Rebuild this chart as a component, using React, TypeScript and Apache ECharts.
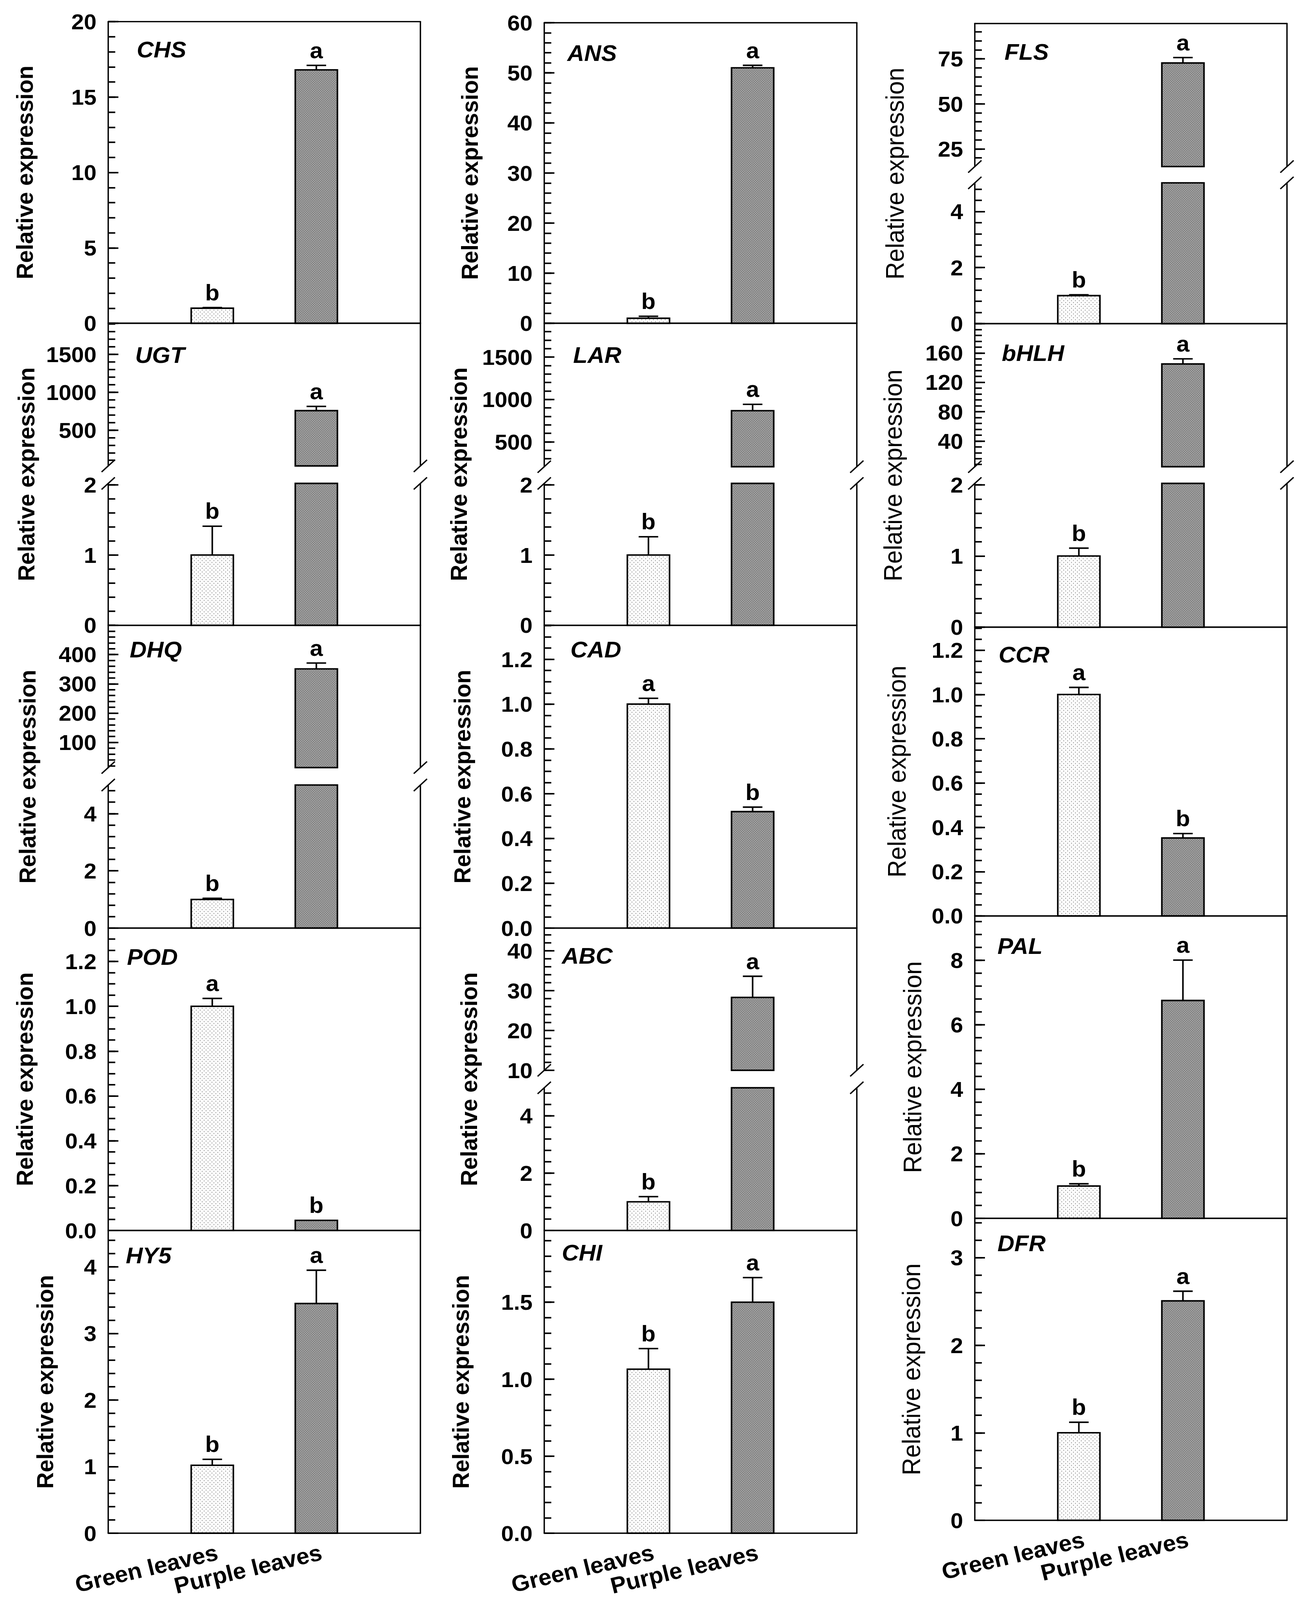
import React, { useEffect, useRef } from 'react';
import * as echarts from 'echarts';

// ---------------- DATA ----------------
const genes = ['CHS', 'ANS', 'FLS', 'UGT', 'LAR', 'bHLH', 'DHQ', 'CAD', 'CCR', 'POD', 'ABC', 'PAL', 'HY5', 'CHI', 'DFR'];
const categories = ['Green leaves', 'Purple leaves'];
const categoryPos = [1, 2];

const greenMean = [1.0, 1.0, 1.0, 1.0, 1.0, 1.0, 1.0, 1.0, 1.0, 1.0, 1.0, 1.0, 1.02, 1.065, 1.0];
const greenErr = [0.04, 0.4, 0.03, 0.41, 0.26, 0.11, 0.04, 0.026, 0.032, 0.035, 0.18, 0.07, 0.09, 0.134, 0.12];
const purpleMean = [16.8, 51.0, 72.7, 756, 867, 145, 351, 0.52, 0.352, 0.045, 28.3, 6.75, 3.45, 1.5, 2.507];
const purpleErr = [0.3, 0.5, 3.0, 56, 75, 7, 20, 0.02, 0.02, 0, 5.3, 1.25, 0.5, 0.16, 0.11];
const greenLetter = ['b', 'b', 'b', 'b', 'b', 'b', 'b', 'a', 'a', 'a', 'b', 'b', 'b', 'b', 'b'];
const purpleLetter = ['a', 'a', 'a', 'a', 'a', 'a', 'a', 'b', 'b', 'b', 'a', 'a', 'a', 'a', 'a'];

// lower (or only) axis section
const lowerMax = [20, 60, 5.02, 2.02, 2.02, 2.02, 5, 1.352, 1.304, 1.349, 4.98, 9.37, 4.547, 1.966, 3.45];
const lowerTicks = [
  [0, 5, 10, 15, 20],
  [0, 10, 20, 30, 40, 50, 60],
  [0, 2, 4],
  [0, 1, 2],
  [0, 1, 2],
  [0, 1, 2],
  [0, 2, 4],
  [0, 0.2, 0.4, 0.6, 0.8, 1.0, 1.2],
  [0, 0.2, 0.4, 0.6, 0.8, 1.0, 1.2],
  [0, 0.2, 0.4, 0.6, 0.8, 1.0, 1.2],
  [0, 2, 4],
  [0, 2, 4, 6, 8],
  [0, 1, 2, 3, 4],
  [0, 0.5, 1.0, 1.5],
  [0, 1, 2, 3],
];
const lowerMinorStep = [1, 2, 0.4, 0.2, 0.2, 0.2, 0.4, 0.05, 0.05, 0.05, 0.4, 0.4, 0.2, 0.1, 0.2];
const labelDecimals = [0, 0, 0, 0, 0, 0, 0, 1, 1, 1, 0, 0, 0, 1, 0];

// upper section of broken axes (null = no break)
const upperRange: (number[] | null)[] = [null, null, [15.2, 94.6], [26, 1910], [206, 1899], [5, 200], [14, 500], null, null, null, [10, 45.7], null, null, null, null];
const upperTicks: (number[] | null)[] = [null, null, [25, 50, 75], [500, 1000, 1500], [500, 1000, 1500], [40, 80, 120, 160], [100, 200, 300, 400], null, null, null, [10, 20, 30, 40], null, null, null, null];
const upperMinorStep: (number | null)[] = [null, null, 5, 100, 100, 8, 20, null, null, null, 2, null, null, null, null];

// ---------------- LAYOUT ----------------
const W = 3335;
const H = 4217;
const FONT = '"Liberation Sans", Arial, Helvetica, sans-serif';
const colX = [[277, 1076], [1393, 2193], [2495, 3294]];
const X_MAX = 3;
const panelY = [
  [57, 852], [60, 852], [62, 439, 482, 853],
  [852, 1228, 1274, 1648], [852, 1230, 1274, 1648], [853, 1230, 1274, 1653],
  [1648, 2023, 2069, 2446], [1648, 2446], [1653, 2414],
  [2446, 3243], [2446, 2821, 2867, 3243], [2414, 3211],
  [3243, 4041], [3243, 4041], [3211, 4007],
];
const titleX = [63, 1202, 2291, 67, 1174, 2286, 70, 1183, 2296, 63, 1200, 2336, 115, 1179, 2333];
const geneOffset = [
  [73, 74], [59, 80], [76, 75],
  [69, 84], [74, 84], [69, 77],
  [55, 64], [67, 64], [61, 72],
  [48, 76], [45, 73], [58, 79],
  [45, 66], [45, 59], [58, 66],
];
const BAR_HALF = 0.2025;
const CAP_HALF = 25;
const AXIS_W = 3.5;
const XLABEL_ROT = (13.5 * Math.PI) / 180;
const XLABEL_GAP = 20;

function svgTile(w: number, h: number, body: string) {
  return 'data:image/svg+xml;charset=utf-8,' + encodeURIComponent(
    `<svg xmlns="http://www.w3.org/2000/svg" width="${w}" height="${h}" viewBox="0 0 ${w} ${h}">${body}</svg>`
  );
}
const GREEN_FILL: any = {
  image: svgTile(10, 10,
    '<rect width="10" height="10" fill="#ffffff"/>' +
    '<circle cx="2.5" cy="2.5" r="1.3" fill="#8c8c8c"/>' +
    '<circle cx="7.5" cy="7.5" r="1.3" fill="#8c8c8c"/>'),
  imageWidth: 10,
  imageHeight: 10,
  repeat: 'repeat',
};
const PURPLE_FILL: any = {
  image: svgTile(6, 6,
    '<rect width="6" height="6" fill="#a8a8a8"/>' +
    '<rect x="0" y="0" width="3" height="3" fill="#7c7c7c"/>' +
    '<rect x="3" y="3" width="3" height="3" fill="#7c7c7c"/>'),
  imageWidth: 6,
  imageHeight: 6,
  repeat: 'repeat',
};

function stepTicks(min: number, max: number, step: number) {
  const out: number[] = [];
  const start = Math.ceil(min / step - 1e-9);
  for (let k = start; k * step <= max + 1e-9; k++) out.push(+(k * step).toFixed(6));
  return out;
}

function makeRender(lo: number, hi: number, gi: number) {
  return (params: any, api: any) => {
    const idx = params.dataIndex;
    const x = api.value(0);
    const v = api.value(1);
    const e = api.value(2);
    const kids: any[] = [];
    if (v > lo) {
      const t = Math.min(v, hi);
      const a = api.coord([x - BAR_HALF, t]);
      const b = api.coord([x + BAR_HALF, lo]);
      kids.push({
        type: 'rect',
        shape: { x: a[0], y: a[1], width: b[0] - a[0], height: b[1] - a[1] },
        style: { fill: idx === 0 ? GREEN_FILL : PURPLE_FILL, stroke: '#000', lineWidth: 4 },
      });
    }
    if (v >= lo && v <= hi) {
      const base = api.coord([x, v]);
      const tip = api.coord([x, v + e]);
      if (e > 0) {
        kids.push({ type: 'line', shape: { x1: base[0], y1: base[1], x2: tip[0], y2: tip[1] }, style: { stroke: '#000', lineWidth: 4 } });
        kids.push({ type: 'line', shape: { x1: tip[0] - CAP_HALF, y1: tip[1], x2: tip[0] + CAP_HALF, y2: tip[1] }, style: { stroke: '#000', lineWidth: 4 } });
      }
      kids.push({
        type: 'text',
        style: {
          text: idx === 0 ? greenLetter[gi] : purpleLetter[gi],
          x: tip[0],
          y: tip[1] - 10,
          align: 'center',
          verticalAlign: 'bottom',
          fontFamily: FONT,
          fontWeight: 'bold',
          fontSize: 60,
          fill: '#000',
        },
      });
    }
    return { type: 'group', children: kids };
  };
}

function buildOption() {
  const grid: any[] = [];
  const xAxis: any[] = [];
  const yAxis: any[] = [];
  const series: any[] = [];
  const graphic: any[] = [];
  const lineStyle = { color: '#000', width: AXIS_W };

  const addSection = (gi: number, y0: number, y1: number, lo: number, hi: number, majors: number[], minorStep: number, hasTop: boolean, hasBottom: boolean, showX: boolean) => {
    const col = gi % 3;
    const [x0, x1] = colX[col];
    const k = grid.length;
    grid.push({ left: x0, top: y0, width: x1 - x0, height: y1 - y0, containLabel: false });
    const dec = labelDecimals[gi];
    xAxis.push({
      gridIndex: k, type: 'value', min: 0, max: X_MAX, position: 'bottom',
      axisLine: { show: hasBottom, onZero: false, lineStyle },
      axisTick: { show: false }, splitLine: { show: false }, axisLabel: { show: false },
    });
    xAxis.push({
      gridIndex: k, type: 'value', min: 0, max: X_MAX, position: 'top',
      axisLine: { show: hasTop, onZero: false, lineStyle },
      axisTick: { show: false }, splitLine: { show: false }, axisLabel: { show: false },
    });
    yAxis.push({
      gridIndex: k, type: 'value', min: lo, max: hi, position: 'left',
      axisLine: { show: true, onZero: false, lineStyle },
      axisTick: { show: true, inside: true, length: 26, customValues: majors, lineStyle: { color: '#000', width: 4 } },
      axisLabel: {
        show: true, customValues: majors, formatter: (v: number) => v.toFixed(dec), margin: 30,
        fontFamily: FONT, fontWeight: 'bold', fontSize: 58, color: '#000',
      },
      splitLine: { show: false },
    });
    yAxis.push({
      gridIndex: k, type: 'value', min: lo, max: hi, position: 'left',
      axisLine: { show: false, onZero: false },
      axisTick: { show: true, inside: true, length: 18, customValues: stepTicks(lo, hi, minorStep), lineStyle: { color: '#000', width: 4 } },
      axisLabel: { show: false }, splitLine: { show: false },
    });
    yAxis.push({
      gridIndex: k, type: 'value', min: lo, max: hi, position: 'right',
      axisLine: { show: true, onZero: false, lineStyle },
      axisTick: { show: false }, axisLabel: { show: false }, splitLine: { show: false },
    });
    series.push({
      type: 'custom',
      xAxisIndex: 2 * k,
      yAxisIndex: 3 * k,
      silent: true,
      clip: false,
      renderItem: makeRender(lo, hi, gi),
      data: [
        [1, greenMean[gi], greenErr[gi]],
        [2, purpleMean[gi], purpleErr[gi]],
      ],
    });
    if (showX) {
      // category labels under the bottom axis, rotated like the original
      categories.forEach((c, ci) => {
        graphic.push({
          type: 'text', silent: true,
          x: x0 + ((x1 - x0) * categoryPos[ci]) / X_MAX + 6,
          y: y1 + XLABEL_GAP,
          rotation: XLABEL_ROT,
          style: {
            text: c, align: 'right', verticalAlign: 'top',
            fontFamily: FONT, fontWeight: 'bold', fontSize: 60, fill: '#000',
          },
        });
      });
    }
  };

  genes.forEach((g, gi) => {
    const col = gi % 3;
    const row = Math.floor(gi / 3);
    const py = panelY[gi];
    const showX = row === 4;
    const ur = upperRange[gi];
    if (ur) {
      addSection(gi, py[0], py[1], ur[0], ur[1], upperTicks[gi] as number[], upperMinorStep[gi] as number, true, false, false);
      addSection(gi, py[2], py[3], 0, lowerMax[gi], lowerTicks[gi], lowerMinorStep[gi], false, true, showX);
      // break marks
      [colX[col][0], colX[col][1]].forEach((bx) => {
        [py[1], py[2]].forEach((by) => {
          graphic.push({
            type: 'line', silent: true,
            shape: { x1: bx - 17, y1: by + 16, x2: bx + 17, y2: by - 16 },
            style: { stroke: '#000', lineWidth: 3.5 },
          });
        });
      });
    } else {
      addSection(gi, py[0], py[1], 0, lowerMax[gi], lowerTicks[gi], lowerMinorStep[gi], true, true, showX);
    }
    const top = py[0];
    const bottom = py[py.length - 1];
    graphic.push({
      type: 'text', silent: true,
      x: titleX[gi], y: (top + bottom) / 2, rotation: Math.PI / 2,
      style: {
        text: 'Relative expression', align: 'center', verticalAlign: 'middle',
        fontFamily: FONT, fontWeight: col === 2 ? 'normal' : 'bold', fontSize: col === 2 ? 64 : 60, fill: '#000',
      },
    });
    graphic.push({
      type: 'text', silent: true,
      x: colX[col][0] + geneOffset[gi][0], y: top + geneOffset[gi][1],
      style: {
        text: g, align: 'left', verticalAlign: 'middle',
        fontFamily: FONT, fontWeight: 'bold', fontStyle: 'italic', fontSize: 60, fill: '#000',
      },
    });
  });

  return {
    animation: false,
    backgroundColor: '#ffffff',
    grid,
    xAxis,
    yAxis,
    series,
    graphic,
  };
}

function viewportScale() {
  if (typeof window === 'undefined') return [1, 1];
  const vw = window.innerWidth || W;
  const vh = window.innerHeight || H;
  const sx = Math.min(1, vw / W);
  const sy = Math.min(1, vh / H);
  return [sx, sy];
}

export default function App() {
  const ref = useRef<HTMLDivElement>(null);
  const [sx, sy] = viewportScale();
  useEffect(() => {
    if (!ref.current) return;
    document.documentElement.style.overflow = 'hidden';
    document.body.style.margin = '0';
    const chart = echarts.init(ref.current, null, { renderer: 'svg', width: W, height: H });
    chart.setOption(buildOption() as any);
    return () => chart.dispose();
  }, []);
  return (
    <div
      ref={ref}
      style={{
        position: 'absolute', left: 0, top: 0, width: W, height: H, background: '#fff',
        transform: `scale(${sx}, ${sy})`, transformOrigin: '0 0',
      }}
    />
  );
}
